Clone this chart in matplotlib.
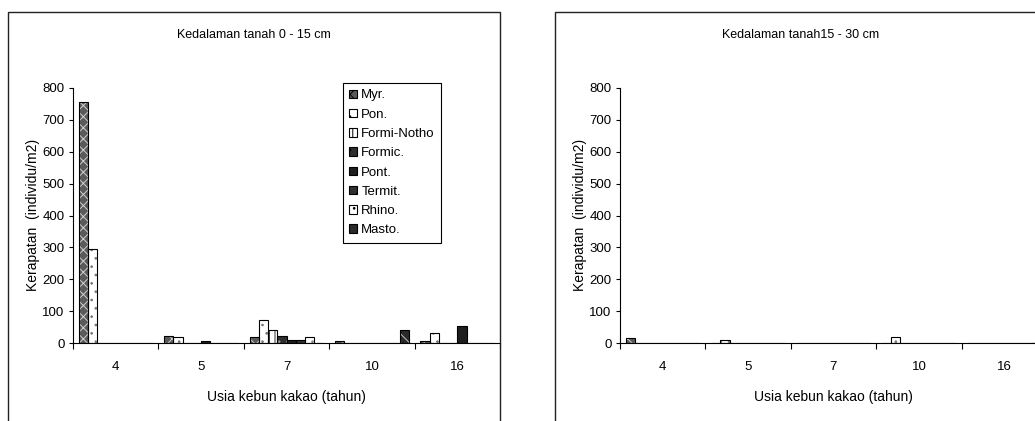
import matplotlib
matplotlib.use("Agg")
import matplotlib.pyplot as plt
from matplotlib.patches import Patch, Rectangle
import numpy as np

plt.rcParams['font.family'] = ['Liberation Sans Narrow', 'Liberation Sans', 'DejaVu Sans']
plt.rcParams['hatch.linewidth'] = 0.7

ages = ['4', '5', '7', '10', '16']
groups = ['Myr.', 'Pon.', 'Formi-Notho', 'Formic.', 'Pont.', 'Termit.', 'Rhino.', 'Masto.']

# kedalaman 0 - 15 cm
top_myr = [755, 22, 19, 7, 7]
top_pon = [295, 18, 73, 0, 31]
top_formi_notho = [0, 0, 40, 0, 0]
top_formic = [0, 0, 23, 0, 0]
top_pont = [0, 6, 8, 0, 54]
top_termit = [0, 0, 8, 0, 0]
top_rhino = [0, 0, 19, 0, 0]
top_masto = [0, 0, 0, 41, 0]

# kedalaman 15 - 30 cm
sub_myr = [15, 0, 0, 0, 0]
sub_pon = [0, 8, 0, 18, 0]
sub_formi_notho = [0, 0, 0, 0, 0]
sub_formic = [0, 0, 0, 0, 0]
sub_pont = [0, 0, 0, 0, 0]
sub_termit = [0, 0, 0, 0, 0]
sub_rhino = [0, 0, 0, 0, 0]
sub_masto = [0, 0, 0, 0, 0]

top_vals = [top_myr, top_pon, top_formi_notho, top_formic, top_pont, top_termit, top_rhino, top_masto]
sub_vals = [sub_myr, sub_pon, sub_formi_notho, sub_formic, sub_pont, sub_termit, sub_rhino, sub_masto]

# face, hatch colour, hatch
styles = [
    ('#5a5a5a', '#d0d0d0', 'xxx'),
    ('white', '#777777', '..'),
    ('white', '#333333', '|||'),
    ('#2e2e2e', '#9a9a9a', '..'),
    ('#1e1e1e', '#1e1e1e', ''),
    ('#303030', '#bdbdbd', '//'),
    ('white', '#888888', '..'),
    ('#2a2a2a', '#c0c0c0', '\\\\'),
]

W, H = 1035, 421
fig = plt.figure(figsize=(W / 100, H / 100), dpi=100)


def panel(left_px, vals, title, frame_x0, frame_x1, legend=False):
    ax = fig.add_axes([left_px / W, (H - 343) / H, 427 / W, 255 / H])
    x = np.arange(len(ages))
    bw = 0.108
    for i, v in enumerate(vals):
        fc, hc, ht = styles[i]
        pos = x + (i - 3.5) * bw
        ax.bar(pos, v, bw, color=fc, edgecolor=hc, hatch=ht, linewidth=0, zorder=2)
        ax.bar(pos, v, bw, fill=False, edgecolor='black', linewidth=0.8, zorder=3)
    ax.set_xlim(-0.5, len(ages) - 0.5)
    ax.set_ylim(0, 800)
    ax.set_yticks(range(0, 801, 100))
    ax.set_xticks(np.arange(len(ages) + 1) - 0.5)
    ax.set_xticklabels([])
    ax.set_xticks(x, minor=True)
    ax.set_xticklabels(ages, minor=True)
    ax.tick_params(axis='x', which='major', length=4, width=0.8, direction='out')
    ax.tick_params(axis='x', which='minor', length=0, pad=13, labelsize=9.5)
    ax.tick_params(axis='y', length=3, width=0.8, pad=3, labelsize=9.5)
    for s in ['top', 'right']:
        ax.spines[s].set_visible(False)
    for s in ['left', 'bottom']:
        ax.spines[s].set_linewidth(0.8)
    ax.patch.set_alpha(0)
    cx = (frame_x0 + frame_x1) / 2
    fig.text(cx / W, (H - 35) / H, title, ha='center', va='center', fontsize=9)
    fig.text((left_px + 213.5) / W, (H - 397) / H, 'Usia kebun kakao (tahun)',
             ha='center', va='center', fontsize=10)
    fig.text((left_px - 40) / W, (H - 215) / H, 'Kerapatan  (individu/m2)',
             ha='center', va='center', rotation=90, fontsize=10)
    fig.patches.append(Rectangle((frame_x0 / W, -0.1), (frame_x1 - frame_x0) / W,
                                 (H - 12) / H + 0.1, transform=fig.transFigure,
                                 fill=False, edgecolor='#222222', linewidth=1.0,
                                 clip_on=False))
    if legend:
        handles = [Patch(facecolor=s[0], edgecolor='black', hatch=s[2], linewidth=0.8)
                   for s in styles]
        leg = ax.legend(handles, groups, loc='upper left', bbox_to_anchor=(0.632, 1.02),
                        borderaxespad=0, fontsize=9.5, handlelength=0.6, handleheight=0.6,
                        handletextpad=0.3, labelspacing=0.55, fancybox=False,
                        edgecolor='black', framealpha=1, borderpad=0.5)
        leg.get_frame().set_linewidth(0.8)
    return ax


panel(73, top_vals, 'Kedalaman tanah 0 - 15 cm', 8, 500, legend=True)
panel(620, sub_vals, 'Kedalaman tanah15 - 30 cm', 555, 1047)

fig.savefig('out.png', dpi=100)
